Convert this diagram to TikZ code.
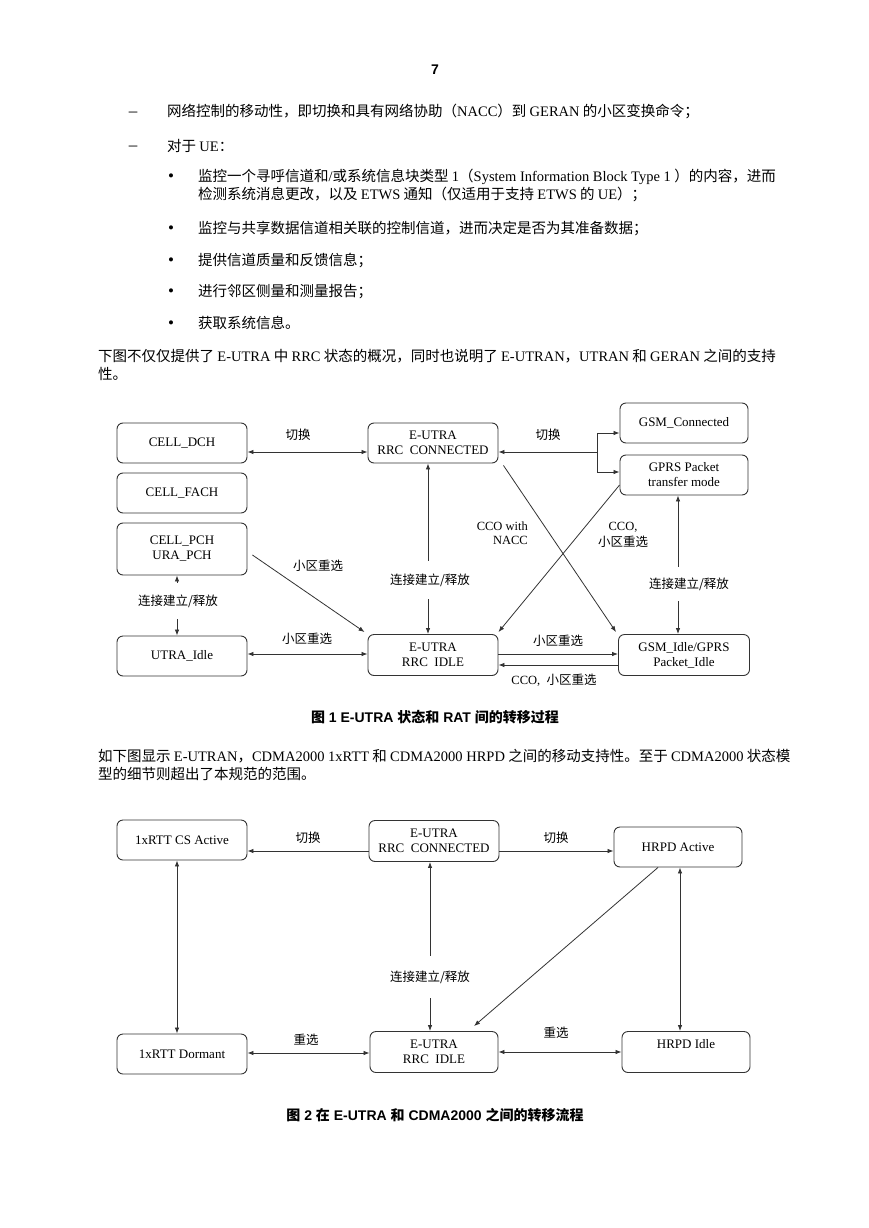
\documentclass[tikz,border=0pt]{standalone}
\usepackage{fontspec}
\setmainfont{Liberation Serif}
\newfontfamily\cjk{Noto Sans CJK SC}
\newfontfamily\hei{Liberation Sans}
\usetikzlibrary{arrows.meta}
\newcommand\latn[1]{{\rmfamily #1}}
\begin{document}
\begin{tikzpicture}[x=1pt,y=-1pt,
  body/.style={anchor=west, inner sep=0pt, font=\cjk\fontsize{14.5}{17}\selectfont, text height=11pt, text depth=3pt},
  bulletmark/.style={inner sep=0pt, font=\rmfamily\fontsize{17}{17}\selectfont},
  statebox/.style={draw=black!80, line width=0.9pt, rounded corners=6pt, minimum width=130pt, minimum height=40pt, align=center, inner sep=1pt, font=\rmfamily\fontsize{13}{15}\selectfont},
  lab/.style={font=\cjk\fontsize{12.5}{15}\selectfont, inner sep=1pt},
  latlab/.style={font=\rmfamily\fontsize{12.5}{14}\selectfont, inner sep=1pt},
  capt/.style={font=\hei\bfseries\fontsize{14}{16}\selectfont, inner sep=0pt},
  conn/.style={draw=black!80, line width=0.8pt},
  onearrow/.style={conn, -{Latex[length=6pt,width=4.5pt]}},
  twoarrow/.style={conn, {Latex[length=6pt,width=4.5pt]}-{Latex[length=6pt,width=4.5pt]}}
]
\useasboundingbox (0,0) rectangle (869,1228);
\fill[white] (0,0) rectangle (869,1228);

% page number
\node[capt] (pg) at (435,70) {7};

% body text
\node[bulletmark] (d1) at (133,114) {–};
\node[body] (t1) at (167,113) {网络控制的移动性，即切换和具有网络协助（\latn{NACC}）到 \latn{GERAN} 的小区变换命令；};
\node[bulletmark] (d2) at (133,148) {–};
\node[body] (t2) at (167,147) {对于 \latn{UE}：};
\node[bulletmark] (b1) at (171,178) {•};
\node[body] (t3) at (198,177) {监控一个寻呼信道和\latn{/}或系统信息块类型 \latn{1}（\latn{System Information Block Type 1 }）的内容，进而};
\node[body] (t4) at (198,195) {检测系统消息更改，以及 \latn{ETWS} 通知（仅适用于支持 \latn{ETWS} 的 \latn{UE}）；};
\node[bulletmark] (b2) at (171,230) {•};
\node[body] (t5) at (198,229) {监控与共享数据信道相关联的控制信道，进而决定是否为其准备数据；};
\node[bulletmark] (b3) at (171,262) {•};
\node[body] (t6) at (198,261) {提供信道质量和反馈信息；};
\node[bulletmark] (b4) at (171,293) {•};
\node[body] (t7) at (198,292) {进行邻区侧量和测量报告；};
\node[bulletmark] (b5) at (171,325) {•};
\node[body] (t8) at (198,324) {获取系统信息。};
\node[body] (p1) at (98,357) {下图不仅仅提供了 \latn{E-UTRA} 中 \latn{RRC} 状态的概况，同时也说明了 \latn{E-UTRAN}，\latn{UTRAN} 和 \latn{GERAN} 之间的支持};
\node[body] (p2) at (98,375) {性。};
\node[body] (p3) at (98,757) {如下图显示 \latn{E-UTRAN}，\latn{CDMA2000 1xRTT} 和 \latn{CDMA2000 HRPD} 之间的移动支持性。至于 \latn{CDMA2000} 状态模};
\node[body] (p4) at (98,775) {型的细节则超出了本规范的范围。};

% ---------------- Diagram 1 ----------------
\node[statebox] (dch) at (182,443) {CELL\_DCH};
\node[statebox] (fach) at (182,493) {CELL\_FACH};
\node[statebox, minimum height=52pt] (pch) at (182,549) {CELL\_PCH\\URA\_PCH};
\node[statebox] (con) at (433,443) {E-UTRA\\RRC~ CONNECTED};
\node[statebox, minimum width=128pt] (gsmc) at (684,423) {GSM\_Connected};
\node[statebox, minimum width=128pt] (gprs) at (684,475) {GPRS Packet\\transfer mode};
\node[statebox] (utra) at (182,656) {UTRA\_Idle};
\node[statebox, minimum height=41pt] (idle) at (433,655) {E-UTRA\\RRC~ IDLE};
\node[statebox, minimum width=131pt, minimum height=41pt] (gsmi) at (684,655) {GSM\_Idle/GPRS\\Packet\_Idle};

\draw[twoarrow] ([yshift=-9pt]dch.east) -- ([yshift=-9pt]con.west);
\coordinate (br) at (597,452);
\draw[onearrow] (br) -- (br -| con.east);
\draw[onearrow] (br) |- ([yshift=-10pt]gsmc.west);
\draw[onearrow] (br) |- ([yshift=3pt]gprs.west);

\draw[twoarrow] ([xshift=-5pt]pch.south) -- ([xshift=-5pt]utra.north);
\node[lab, fill=white, inner ysep=12pt] (l1) at (178,601) {连接建立/释放};

\draw[twoarrow] ([xshift=-5pt]con.south) -- ([xshift=-5pt]idle.north);
\node[lab, fill=white, inner ysep=13pt] (l2) at (430,580) {连接建立/释放};

\draw[twoarrow] ([xshift=-6pt]gprs.south) -- ([xshift=-6pt]gsmi.north);
\node[lab, fill=white, inner ysep=11pt] (l3) at (689,584) {连接建立/释放};

\draw[onearrow] ([xshift=5pt,yshift=-2pt]con.south east) -- ([xshift=-2pt,yshift=2pt]gsmi.north west);
\draw[onearrow] ([yshift=-10pt]gprs.west) -- ([yshift=2pt]idle.north east);
\draw[onearrow] ([xshift=5pt,yshift=-6pt]pch.east) -- ([xshift=-3pt,yshift=2pt]idle.north west);

\draw[twoarrow] ([yshift=2pt]utra.east) -- ([yshift=1pt]idle.west);
\draw[onearrow] ([yshift=1pt]idle.east) -- ([yshift=1pt]gsmi.west);
\draw[onearrow] ([yshift=-10pt]gsmi.west) -- ([yshift=-10pt]idle.east);

\node[lab] (h1) at (298,435) {切换};
\node[lab] (h2) at (548,435) {切换};
\node[latlab, anchor=east, align=right] (c1) at (529,533) {CCO with\\NACC};
\node[latlab, align=center] (c2) at (623,535) {CCO,\\[2pt]{\cjk 小区重选}};
\node[lab] (r1) at (318,566) {小区重选};
\node[lab] (r2) at (307,639) {小区重选};
\node[lab] (r3) at (558,641) {小区重选};
\node[latlab] (r4) at (554,680) {CCO,~ {\cjk 小区重选}};

\node[capt] (cap1) at (435,717) {{\cjk 图} 1 E-UTRA {\cjk 状态和} RAT {\cjk 间的转移过程}};

% ---------------- Diagram 2 ----------------
\node[statebox] (rtta) at (182,840) {1xRTT CS Active};
\node[statebox, minimum height=41pt] (con2) at (434,841) {E-UTRA\\RRC~ CONNECTED};
\node[statebox, minimum width=128pt] (hrpda) at (678,847) {HRPD Active};
\node[statebox] (rttd) at (182,1054) {1xRTT Dormant};
\node[statebox, minimum width=128pt, minimum height=41pt] (idle2) at (434,1052) {E-UTRA\\RRC~ IDLE};
\node[statebox, minimum width=128pt, minimum height=41pt, text height=9pt, text depth=17pt] (hrpdi) at (686,1052) {HRPD Idle};

\draw[onearrow] ([yshift=-10pt]con2.west) -- ([yshift=-10pt]con2.west -| rtta.east);
\draw[onearrow] ([yshift=-10pt]con2.east) -- ([yshift=-10pt]con2.east -| hrpda.west);
\draw[twoarrow] ([xshift=-5pt]rtta.south) -- ([xshift=-5pt]rttd.north);
\draw[twoarrow] ([xshift=-4pt]con2.south) -- ([xshift=-4pt]idle2.north);
\node[lab, fill=white, inner ysep=15pt] (l5) at (430,977) {连接建立/释放};
\draw[onearrow] ([xshift=-20pt]hrpda.south) -- ([xshift=40pt,yshift=5pt]idle2.north);
\draw[twoarrow] ([xshift=2pt]hrpda.south) -- ([xshift=-6pt]hrpdi.north);
\draw[twoarrow] ([yshift=1pt]rttd.east) -- ([yshift=1pt]rttd.east -| idle2.west);
\draw[twoarrow] (idle2.east) -- (idle2.east -| hrpdi.west);

\node[lab] (h3) at (308,838) {切换};
\node[lab] (h4) at (556,838) {切换};
\node[lab] (s1) at (306,1040) {重选};
\node[lab] (s2) at (556,1033) {重选};

\node[capt] (cap2) at (435,1115) {{\cjk 图} 2 {\cjk 在} E-UTRA {\cjk 和} CDMA2000 {\cjk 之间的转移流程}};
\end{tikzpicture}
\end{document}
